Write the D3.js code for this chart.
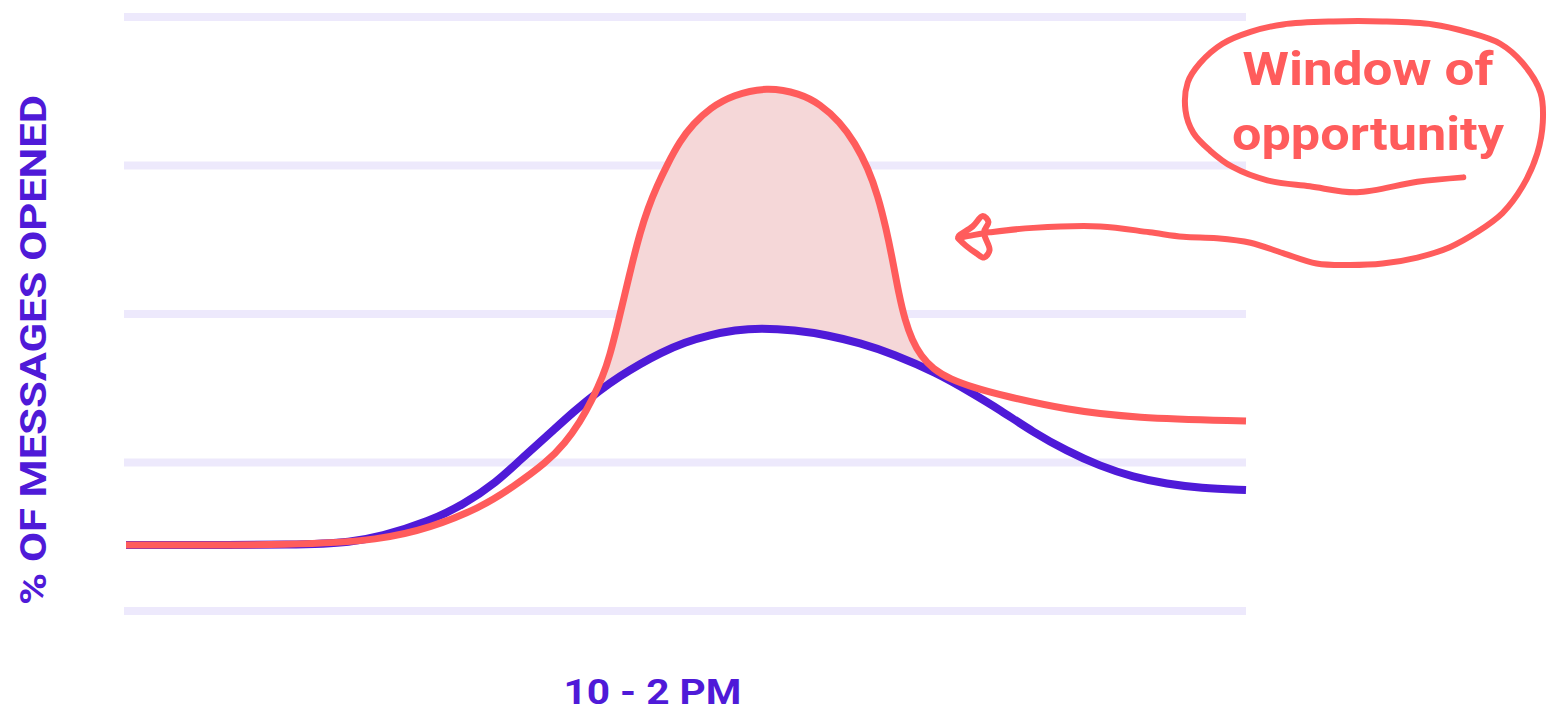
<!DOCTYPE html>
<html>
<head>
<meta charset="utf-8">
<script src="https://cdn.jsdelivr.net/npm/d3@7"></script>
<style>
  html, body { margin: 0; padding: 0; background: #ffffff; }
  svg { display: block; }
  text { font-family: "Roboto", "Lato", "DejaVu Sans", sans-serif; font-weight: 700; }
</style>
</head>
<body>
<svg id="chart" width="1552" height="714"></svg>
<script>
// ---------------- data ----------------
const gridValues = [0, 10, 20, 30, 40];

// baseline (purple) series: time index (0-100) and % opened
const tPurple = [0, 16.43, 20.0, 22.68, 27.14, 30.09, 33.13, 35.18, 37.59, 39.91, 42.32, 44.11, 45.89, 47.68, 49.91, 52.14, 54.38, 56.61, 59.73, 62.59, 65.54, 68.48, 72.41, 75.36, 78.04, 80.98, 84.02, 86.96, 89.91, 92.95, 95.89, 100];
const vPurple = [4.44, 4.44, 4.65, 4.98, 6.06, 7.14, 8.69, 10.17, 11.78, 13.40, 14.88, 15.82, 16.63, 17.37, 18.11, 18.59, 18.92, 19.06, 18.92, 18.59, 18.05, 17.31, 16.03, 14.75, 13.54, 12.05, 10.77, 9.76, 9.02, 8.55, 8.28, 8.15];

// optimised (red) series
const tRed = [0, 15.54, 22.68, 27.14, 31.61, 34.55, 37.59, 39.20, 40.54, 41.61, 42.59, 43.21, 43.84, 44.46, 45.18, 45.89, 46.61, 47.41, 48.30, 49.46, 50.63, 52.14, 54.20, 57.23, 60.18, 61.96, 63.75, 65.09, 66.25, 67.14, 67.86, 68.48, 69.02, 69.55, 70.18, 70.98, 72.05, 73.57, 75.80, 78.04, 84.02, 89.91, 100];
const vRed = [4.44, 4.44, 4.78, 5.59, 6.94, 8.35, 10.03, 11.31, 12.73, 14.21, 15.82, 17.24, 19.12, 21.08, 23.37, 25.45, 27.14, 28.62, 30.03, 31.65, 32.79, 33.87, 34.75, 35.3, 34.85, 34.14, 32.93, 31.52, 29.83, 27.95, 25.79, 23.50, 21.28, 19.60, 18.25, 17.17, 16.30, 15.62, 15.02, 14.55, 13.54, 13.00, 12.79];

const yLabel = "% OF MESSAGES OPENED";
const xLabel = "10 - 2 PM";
const xLabelAt = 47;
const noteLines = ["Window of", "opportunity"];

// hand-drawn annotation loop + arrow, in data units (t, v)
const noteLoopT = [119.4, 115.3, 109.9, 105.7, 101.9, 98.8, 96.8, 95.3, 94.6, 94.8, 95.9, 97.9, 100.4, 103.3, 107.8, 112.2, 116.7, 119.7, 122.7, 124.7, 126.3, 126.5, 126.0, 124.7, 122.9, 120.6, 118.2, 115.3, 112.2, 109.3, 106.3, 103.3, 100.4, 97.4, 94.4, 91.4, 87.0, 81.0, 77.1, 74.3, 75.6, 76.5, 77.0, 76.6, 77.1, 76.6, 75.9, 75.0, 74.3];
const noteLoopV = [29.2, 28.9, 28.2, 28.6, 29.0, 29.9, 31.0, 32.2, 33.7, 35.6, 36.9, 38.2, 39.0, 39.5, 39.7, 39.7, 39.5, 39.0, 38.2, 36.9, 34.9, 32.9, 30.8, 28.6, 26.8, 25.5, 24.5, 23.8, 23.4, 23.3, 23.4, 24.1, 24.8, 25.1, 25.2, 25.5, 25.9, 25.8, 25.5, 25.2, 25.9, 26.6, 26.2, 25.5, 24.3, 23.8, 24.1, 24.6, 25.1];

// ---------------- layout ----------------
const svg = d3.select("#chart");
const x = d3.scaleLinear().domain([0, 100]).range([126, 1246]);
const y = d3.scaleLinear().domain([0, 40]).range([611, 17]);

const purple = "#4f1ad8";
const red = "#ff5c5c";
const curve = d3.curveBasis;

// gridlines
svg.append("g").selectAll("line").data(gridValues).join("line")
  .attr("x1", x(0) - 2).attr("x2", x(100))
  .attr("y1", d => y(d)).attr("y2", d => y(d))
  .attr("stroke", "#ede9fc").attr("stroke-width", 8);

const purpleData = tPurple.map((t, i) => ({ t, v: vPurple[i] }));
const redData = tRed.map((t, i) => ({ t, v: vRed[i] }));

const line = d3.line().x(d => x(d.t)).y(d => y(d.v)).curve(curve);

const defs = svg.append("defs");
const pPurple = svg.append("path").attr("d", line(purpleData)).attr("fill", "none").attr("stroke", "none");
const pRed = svg.append("path").attr("d", line(redData)).attr("fill", "none").attr("stroke", "none");

function sampler(node) {
  const L = node.getTotalLength();
  const pts = [];
  for (let s = 0; s <= L; s += 0.5) pts.push(node.getPointAtLength(s));
  return function (px) {
    let best = pts[0];
    let bd = Infinity;
    for (const p of pts) { const dd = Math.abs(p.x - px); if (dd < bd) { bd = dd; best = p; } }
    return best.y;
  };
}
const yP = sampler(pPurple.node());
const yR = sampler(pRed.node());
let xa = x(40), xb = x(75);
for (let px = x(38); px <= x(48); px += 0.5) { if (yR(px) < yP(px)) { xa = px; break; } }
for (let px = x(65); px <= x(80); px += 0.5) { if (yR(px) >= yP(px)) { xb = px; break; } }

const clipArea = d3.area().x(d => x(d.t)).y0(0).y1(d => y(d.v)).curve(curve);
defs.append("clipPath").attr("id", "aboveP").append("path").attr("d", clipArea(purpleData));
defs.append("clipPath").attr("id", "between").append("rect")
  .attr("x", xa).attr("y", 0).attr("width", xb - xa).attr("height", 714);

const fillArea = d3.area().x(d => x(d.t)).y0(y(0)).y1(d => y(d.v)).curve(curve);
svg.append("g").attr("clip-path", "url(#between)")
  .append("path").attr("clip-path", "url(#aboveP)")
  .attr("d", fillArea(redData)).attr("fill", "#f5d7d8");

svg.append("path").attr("d", line(purpleData))
  .attr("fill", "none").attr("stroke", purple).attr("stroke-width", 8);
svg.append("path").attr("d", line(redData))
  .attr("fill", "none").attr("stroke", red).attr("stroke-width", 7);

// axis labels
svg.append("text")
  .attr("transform", "translate(46,350) rotate(-90)")
  .attr("text-anchor", "middle")
  .attr("font-size", 37)
  .attr("fill", purple)
  .attr("textLength", 510).attr("lengthAdjust", "spacingAndGlyphs")
  .text(yLabel);

svg.append("text")
  .attr("x", x(xLabelAt)).attr("y", 704)
  .attr("text-anchor", "middle")
  .attr("font-size", 35)
  .attr("fill", purple)
  .attr("textLength", 178).attr("lengthAdjust", "spacingAndGlyphs")
  .text(xLabel);

// annotation
const noteData = noteLoopT.map((t, i) => ({ t, v: noteLoopV[i] }));
svg.append("path")
  .attr("d", d3.line().x(d => x(d.t)).y(d => y(d.v)).curve(d3.curveCatmullRom.alpha(0.5))(noteData))
  .attr("fill", "none").attr("stroke", red).attr("stroke-width", 6)
  .attr("stroke-linecap", "round").attr("stroke-linejoin", "round");

const noteWidths = [251, 272];
const noteBase = [85, 150];
svg.append("g").selectAll("text").data(noteLines).join("text")
  .attr("x", 1368)
  .attr("y", (d, i) => noteBase[i])
  .attr("text-anchor", "middle")
  .attr("font-size", 46)
  .attr("fill", red)
  .attr("textLength", (d, i) => noteWidths[i]).attr("lengthAdjust", "spacingAndGlyphs")
  .text(d => d);
</script>
</body>
</html>
